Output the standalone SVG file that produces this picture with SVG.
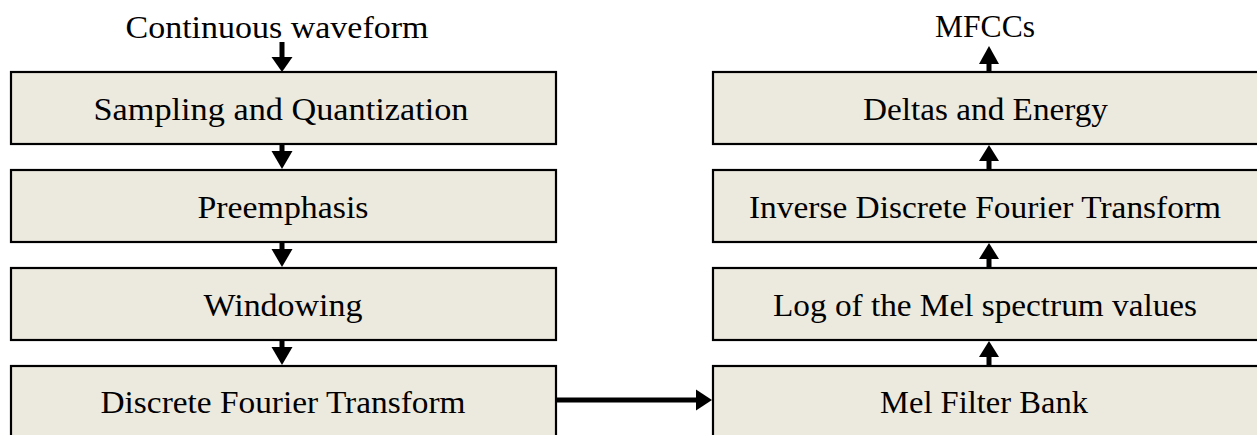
<svg xmlns="http://www.w3.org/2000/svg" width="1257" height="435" viewBox="0 0 1257 435">
  <style>
    .box { fill: #ECE9DF; stroke: #000; stroke-width: 2.2; }
    .t { font-family: "Liberation Serif", "Times New Roman", serif; font-size: 31px; fill: #000; text-anchor: middle; }
    .ar { fill: #000; stroke: none; }
  </style>
  <rect width="1257" height="435" fill="#fff"/>

  <text class="t" x="277" y="38" textLength="303" lengthAdjust="spacingAndGlyphs">Continuous waveform</text>
  <text class="t" x="985" y="37" textLength="100" lengthAdjust="spacingAndGlyphs">MFCCs</text>

  <g id="sampling">
    <rect class="box" x="11" y="72" width="545" height="72"/>
    <text class="t" x="281" y="120" textLength="375" lengthAdjust="spacingAndGlyphs">Sampling and Quantization</text>
  </g>
  <g id="preemphasis">
    <rect class="box" x="11" y="170" width="545" height="72"/>
    <text class="t" x="283" y="217.5" textLength="171" lengthAdjust="spacingAndGlyphs">Preemphasis</text>
  </g>
  <g id="windowing">
    <rect class="box" x="11" y="268" width="545" height="72"/>
    <text class="t" x="283" y="315.5" textLength="159" lengthAdjust="spacingAndGlyphs">Windowing</text>
  </g>
  <g id="dft">
    <rect class="box" x="11" y="366" width="545" height="80"/>
    <text class="t" x="283" y="413" textLength="365" lengthAdjust="spacingAndGlyphs">Discrete Fourier Transform</text>
  </g>

  <g id="deltas">
    <rect class="box" x="713" y="72" width="560" height="72"/>
    <text class="t" x="985.5" y="120" textLength="245" lengthAdjust="spacingAndGlyphs">Deltas and Energy</text>
  </g>
  <g id="idft">
    <rect class="box" x="713" y="170" width="560" height="72"/>
    <text class="t" x="985" y="217.5" textLength="472" lengthAdjust="spacingAndGlyphs">Inverse Discrete Fourier Transform</text>
  </g>
  <g id="log">
    <rect class="box" x="713" y="268" width="560" height="72"/>
    <text class="t" x="985" y="315.5" textLength="424" lengthAdjust="spacingAndGlyphs">Log of the Mel spectrum values</text>
  </g>
  <g id="melbank">
    <rect class="box" x="713" y="366" width="560" height="80"/>
    <text class="t" x="984" y="413" textLength="208" lengthAdjust="spacingAndGlyphs">Mel Filter Bank</text>
  </g>

  <g id="connectors">
    <rect class="ar" x="279.5" y="42" width="5" height="16"/>
    <polygon class="ar" points="271.5,57 292.5,57 282,72"/>
    <rect class="ar" x="279.5" y="145" width="5" height="7"/>
    <polygon class="ar" points="271.5,151 292.5,151 282,169"/>
    <rect class="ar" x="279.5" y="243" width="5" height="7"/>
    <polygon class="ar" points="271.5,249 292.5,249 282,267"/>
    <rect class="ar" x="279.5" y="341" width="5" height="7"/>
    <polygon class="ar" points="271.5,347 292.5,347 282,365"/>
    <rect class="ar" x="557" y="397.5" width="142" height="5"/>
    <polygon class="ar" points="696,389.5 696,410.5 712,400"/>
    <rect class="ar" x="986.5" y="62" width="5" height="10"/>
    <polygon class="ar" points="979,64 999,64 989,46"/>
    <rect class="ar" x="986.5" y="158" width="5" height="12"/>
    <polygon class="ar" points="979,161 999,161 989,145"/>
    <rect class="ar" x="986.5" y="256" width="5" height="12"/>
    <polygon class="ar" points="979,259 999,259 989,243"/>
    <rect class="ar" x="986.5" y="354" width="5" height="12"/>
    <polygon class="ar" points="979,357 999,357 989,341"/>
  </g>
</svg>
